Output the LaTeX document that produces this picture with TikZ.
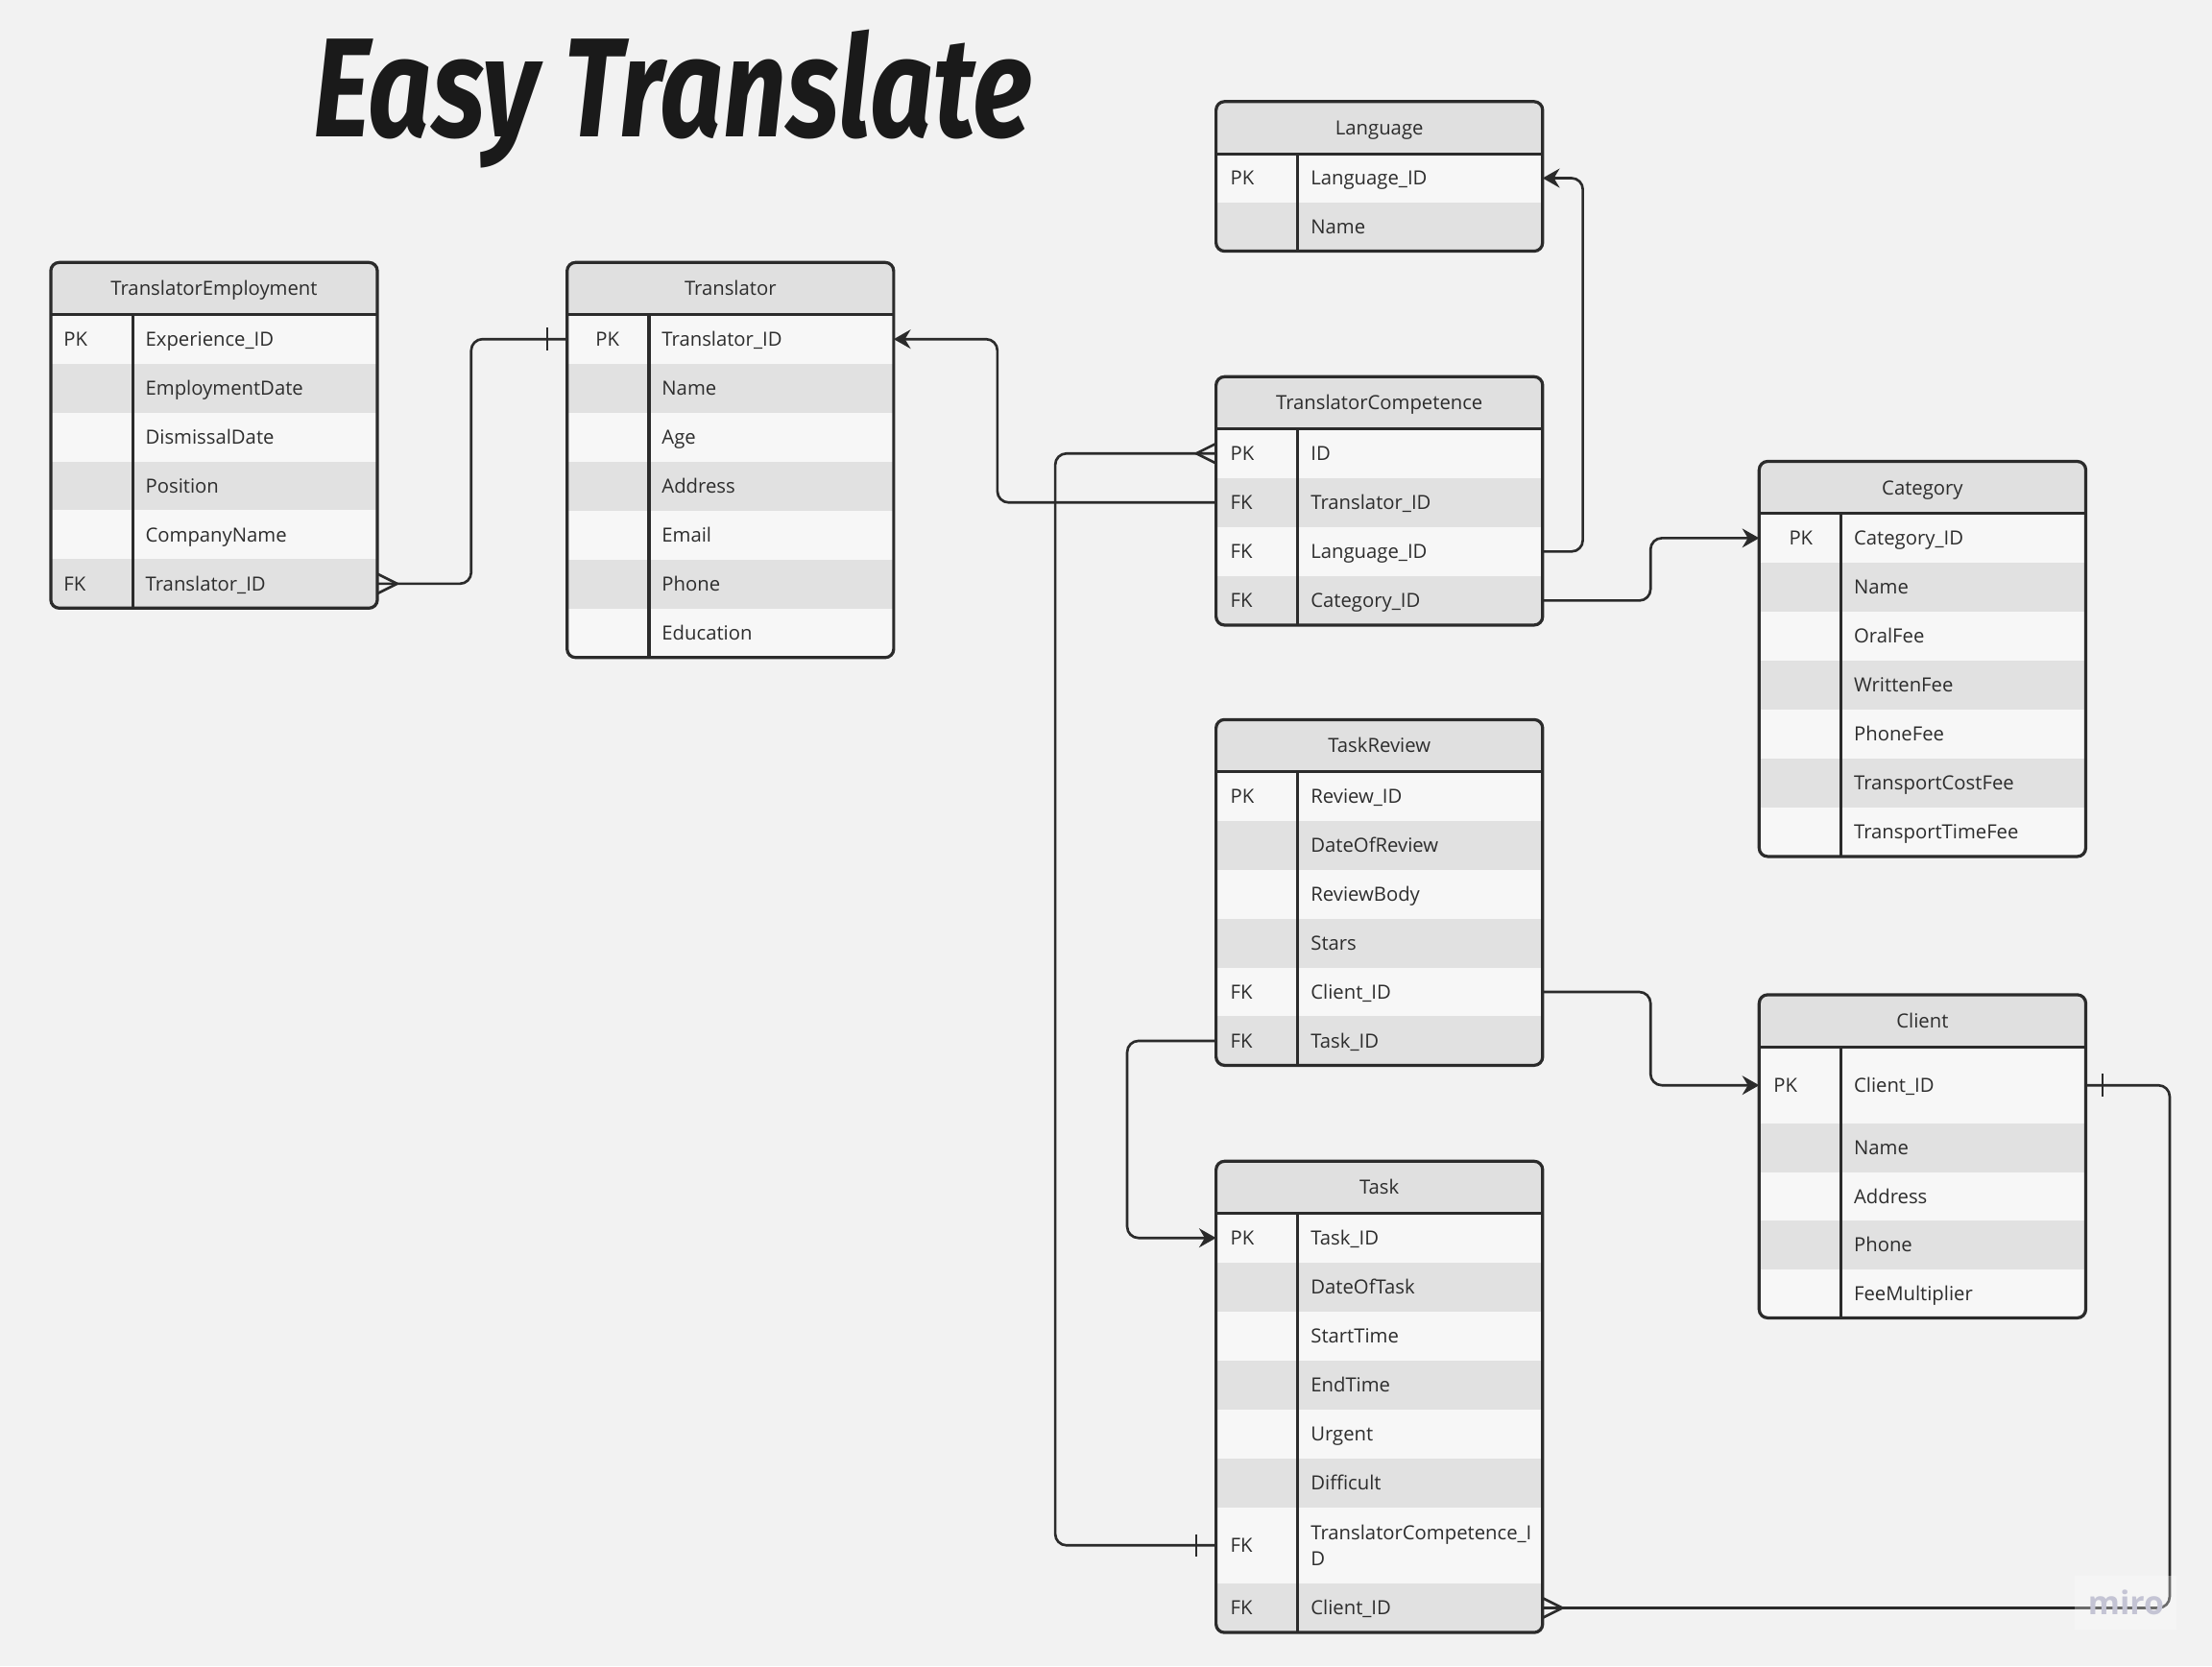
\documentclass[tikz,border=0pt]{standalone}
\usepackage{fontspec}
\usepackage{graphicx}
\setmainfont{Open Sans}
\newfontfamily\titlefont{Fira Sans}
\usetikzlibrary{arrows.meta,calc}
\definecolor{bgc}{RGB}{242,242,242}
\definecolor{hdrc}{RGB}{224,224,224}
\definecolor{rowa}{RGB}{247,247,247}
\definecolor{rowb}{RGB}{225,225,225}
\definecolor{linec}{RGB}{43,43,43}
\definecolor{txtc}{RGB}{45,45,45}
\definecolor{wmc}{RGB}{196,196,212}
\definecolor{titc}{RGB}{26,26,26}
\newcommand\eFs{\fontsize{13.8}{18}\selectfont}
\def\eTw{231.5}
\def\eKx{10}
\tikzset{
  rowbox/.style={anchor=north west, inner sep=0pt, outer sep=0pt, draw=none},
  keytxt/.style={anchor=base west, inner sep=0pt, text=txtc, font=\eFs},
  fieldtxt/.style={anchor=base west, inner sep=0pt, text=txtc, font=\eFs, align=left},
  hdrtxt/.style={anchor=base, inner sep=0pt, text=txtc, font=\eFs},
  border/.style={draw=linec, line width=2.2pt},
  conn/.style={draw=linec, line width=1.8pt, line join=round, rounded corners=8pt},
  arr/.style={-{Stealth[length=12pt,width=13.5pt,inset=4pt]}},
  endmark/.style={draw=linec, line width=1.8pt},
}
\newcommand\erow[5]{% name, height, fill, key, field
  \node[rowbox, fill=#3, minimum width=\eTw pt, minimum height=#2 pt] (#1) at (\eTx,\eRy) {};
  \node[keytxt] (#1k) at ([xshift=\eKx pt, yshift=-5pt]#1.west) {#4};
  \node[fieldtxt] (#1f) at ([xshift=67pt, yshift=-5pt]#1.west) {#5};
  \pgfmathsetmacro\eTmp{\eRy+#2}\global\let\eRy\eTmp
}
\newcommand\erowtwo[6]{% name, height, fill, key, line1, line2
  \node[rowbox, fill=#3, minimum width=\eTw pt, minimum height=#2 pt] (#1) at (\eTx,\eRy) {};
  \node[keytxt] (#1k) at ([xshift=\eKx pt, yshift=-5pt]#1.west) {#4};
  \node[fieldtxt, anchor=west] (#1f) at ([xshift=67pt]#1.west) {#5\\#6};
  \pgfmathsetmacro\eTmp{\eRy+#2}\global\let\eRy\eTmp
}
\newcommand\etable[6]{% name, left, top, bottom, title, rows
  \gdef\eTx{#2}
  \begin{scope}
    \clip[rounded corners=6pt] (#2,#3) rectangle ({#2+\eTw},#4);
    \node[rowbox, fill=hdrc, minimum width=\eTw pt, minimum height=37pt] (#1) at (#2,#3) {};
    \node[hdrtxt] (#1t) at ([yshift=-5pt]#1.center) {#5};
    \pgfmathsetmacro\eTmp{#3+37}\global\let\eRy\eTmp
    #6
  \end{scope}
  \draw[border, rounded corners=6pt] (#2,#3) rectangle ({#2+\eTw},#4);
  \draw[border] (#2,{#3+37}) -- ({#2+\eTw},{#3+37});
  \draw[border] ({#2+58},{#3+37}) -- ({#2+58},#4);
}
\begin{document}
\begin{tikzpicture}[x=1pt,y=-1pt]
\fill[bgc] (0,0) rectangle (1568,1181);
\useasboundingbox (0,0) rectangle (1568,1181);

% title
\node[anchor=base west, inner sep=0pt, text=titc] (title) at (222,97)
  {\titlefont\bfseries\itshape\fontsize{100}{100}\selectfont\scalebox{0.787}[1]{Easy Translate}};

% TranslatorEmployment
\def\eKx{9}
\etable{te}{36}{186}{431}{TranslatorEmployment}{%
  \erow{te1}{34.67}{rowa}{PK}{Experience\_ID}
  \erow{te2}{34.67}{rowb}{}{EmploymentDate}
  \erow{te3}{34.67}{rowa}{}{DismissalDate}
  \erow{te4}{34.67}{rowb}{}{Position}
  \erow{te5}{34.67}{rowa}{}{CompanyName}
  \erow{te6}{34.67}{rowb}{FK}{Translator\_ID}
}

% Translator
\def\eKx{20}
\etable{tr}{402}{186}{466}{Translator}{%
  \erow{tr1}{34.71}{rowa}{PK}{Translator\_ID}
  \erow{tr2}{34.71}{rowb}{}{Name}
  \erow{tr3}{34.71}{rowa}{}{Age}
  \erow{tr4}{34.71}{rowb}{}{Address}
  \erow{tr5}{34.71}{rowa}{}{Email}
  \erow{tr6}{34.71}{rowb}{}{Phone}
  \erow{tr7}{34.71}{rowa}{}{Education}
}

% Language
\def\eKx{10}
\etable{lang}{862}{72}{178}{Language}{%
  \erow{lang1}{34.5}{rowa}{PK}{Language\_ID}
  \erow{lang2}{34.5}{rowb}{}{Name}
}

% TranslatorCompetence
\etable{tc}{862}{267}{443}{TranslatorCompetence}{%
  \erow{tc1}{34.75}{rowa}{PK}{ID}
  \erow{tc2}{34.75}{rowb}{FK}{Translator\_ID}
  \erow{tc3}{34.75}{rowa}{FK}{Language\_ID}
  \erow{tc4}{34.75}{rowb}{FK}{Category\_ID}
}

% Category
\def\eKx{21}
\etable{cat}{1247}{327}{607}{Category}{%
  \erow{cat1}{34.71}{rowa}{PK}{Category\_ID}
  \erow{cat2}{34.71}{rowb}{}{Name}
  \erow{cat3}{34.71}{rowa}{}{OralFee}
  \erow{cat4}{34.71}{rowb}{}{WrittenFee}
  \erow{cat5}{34.71}{rowa}{}{PhoneFee}
  \erow{cat6}{34.71}{rowb}{}{TransportCostFee}
  \erow{cat7}{34.71}{rowa}{}{TransportTimeFee}
}

% TaskReview
\def\eKx{10}
\etable{rev}{862}{510}{755}{TaskReview}{%
  \erow{rev1}{34.67}{rowa}{PK}{Review\_ID}
  \erow{rev2}{34.67}{rowb}{}{DateOfReview}
  \erow{rev3}{34.67}{rowa}{}{ReviewBody}
  \erow{rev4}{34.67}{rowb}{}{Stars}
  \erow{rev5}{34.67}{rowa}{FK}{Client\_ID}
  \erow{rev6}{34.67}{rowb}{FK}{Task\_ID}
}

% Client
\etable{cli}{1247}{705}{934}{Client}{%
  \erow{cli1}{54.3}{rowa}{PK}{Client\_ID}
  \erow{cli2}{34.4}{rowb}{}{Name}
  \erow{cli3}{34.4}{rowa}{}{Address}
  \erow{cli4}{34.4}{rowb}{}{Phone}
  \erow{cli5}{34.4}{rowa}{}{FeeMultiplier}
}

% Task
\etable{task}{862}{823}{1157}{Task}{%
  \erow{task1}{34.7}{rowa}{PK}{Task\_ID}
  \erow{task2}{34.7}{rowb}{}{DateOfTask}
  \erow{task3}{34.7}{rowa}{}{StartTime}
  \erow{task4}{34.7}{rowb}{}{EndTime}
  \erow{task5}{34.7}{rowa}{}{Urgent}
  \erow{task6}{34.7}{rowb}{}{Difficult}
  \erowtwo{task7}{54}{rowa}{FK}{TranslatorCompetence\_I}{D}
  \erow{task8}{34.7}{rowb}{FK}{Client\_ID}
}

% corridors
\coordinate (c1) at (334,0);
\coordinate (c2) at (707,0);
\coordinate (c3) at (1122,0);
\coordinate (c4) at (1170,0);
\coordinate (c5) at (748,0);
\coordinate (c6) at (799,0);
\coordinate (c8) at (1538,0);

% TranslatorEmployment -> Translator
\draw[conn] (te6.east) -- (te6.east -| c1) -- (tr1.west -| c1) -- (tr1.west);
\draw[endmark] ([yshift=7pt]te6.east) -- ([xshift=14pt]te6.east) -- ([yshift=-7pt]te6.east);
\draw[endmark] ([xshift=-14pt,yshift=8pt]tr1.west) -- ([xshift=-14pt,yshift=-8pt]tr1.west);

% TranslatorCompetence -> Translator
\draw[conn, arr] (tc2.west) -- (tc2.west -| c2) -- (tr1.east -| c2) -- (tr1.east);
% TranslatorCompetence -> Language
\draw[conn, arr] (tc3.east) -- (tc3.east -| c3) -- (lang1.east -| c3) -- (lang1.east);
% TranslatorCompetence -> Category
\draw[conn, arr] (tc4.east) -- (tc4.east -| c4) -- (cat1.west -| c4) -- (cat1.west);
% TranslatorCompetence -- Task
\draw[conn] (tc1.west) -- (tc1.west -| c5) -- (task7.west -| c5) -- (task7.west);
\draw[endmark] ([yshift=7pt]tc1.west) -- ([xshift=-14pt]tc1.west) -- ([yshift=-7pt]tc1.west);
\draw[endmark] ([xshift=-14pt,yshift=8pt]task7.west) -- ([xshift=-14pt,yshift=-8pt]task7.west);
% TaskReview -> Task
\draw[conn, arr] (rev6.west) -- (rev6.west -| c6) -- (task1.west -| c6) -- (task1.west);
% TaskReview -> Client
\draw[conn, arr] (rev5.east) -- (rev5.east -| c4) -- (cli1.west -| c4) -- (cli1.west);
% Client -- Task
\draw[conn] (cli1.east) -- (cli1.east -| c8) -- (task8.east -| c8) -- (task8.east);
\draw[endmark] ([xshift=12pt,yshift=8pt]cli1.east) -- ([xshift=12pt,yshift=-8pt]cli1.east);
\draw[endmark] ([yshift=7pt]task8.east) -- ([xshift=14pt]task8.east) -- ([yshift=-7pt]task8.east);

% watermark
\fill[white, opacity=0.3] (1471,1117) rectangle (1543,1155);
\node[inner sep=0pt, text=wmc, font=\fontsize{23}{23}\selectfont\bfseries, xscale=1] (wm) at (1507,1136) {miro};
\end{tikzpicture}
\end{document}
